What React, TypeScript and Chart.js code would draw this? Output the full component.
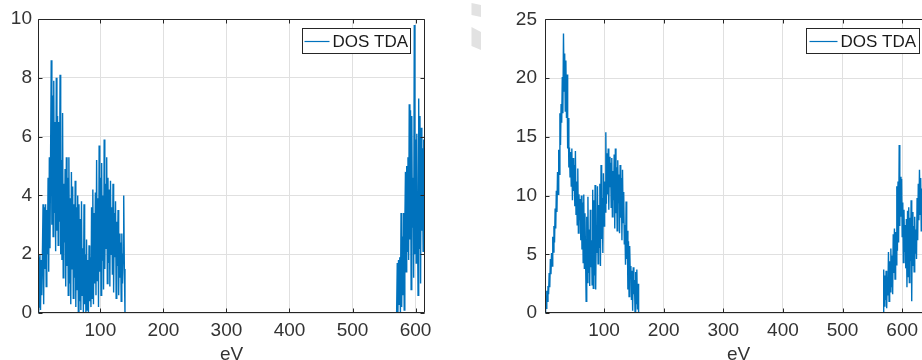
import React, { useEffect, useRef } from "react";
import { Chart, registerables } from "chart.js";

Chart.register(...registerables);

// ---------- data ----------
const seriesLabel = "DOS TDA";
const xTitle = "eV";

// left panel (energy grid step 1 eV)
const leftBand1Start = 1;
const leftBand1 = [
  0, 1.9, 0.2, 2.0, 0.1, 1.8, 0.6, 2.0, 3.7, 0.3,
  3.6, 1.5, 3.7, 0.9, 3.5, 2.0, 4.6, 1.4, 5.3, 2.2,
  5.4, 8.6, 3.0, 7.4, 2.6, 7.9, 3.4, 6.5, 2.1, 8.0,
  2.8, 6.7, 2.3, 6.5, 3.1, 8.1, 2.0, 5.2, 1.8, 6.8,
  1.2, 4.4, 2.4, 4.9, 0.9, 5.3, 1.6, 4.6, 0.6, 5.3,
  1.0, 3.9, 0.3, 4.8, 1.5, 4.3, 0.5, 3.7, 1.2, 4.5,
  0.2, 3.6, 0.8, 4.0, 0.0, 3.7, 0.4, 3.2, 0.1, 3.8,
  0.6, 2.2, 0.0, 3.7, 0.3, 2.0, 0.0, 2.5, 0.1, 1.8,
  0.0, 2.3, 0.4, 1.9, 0.2, 3.6, 0.5, 4.2, 0.3, 3.4,
  1.0, 4.1, 0.6, 5.2, 1.1, 3.9, 0.2, 5.7, 1.4, 4.6,
  0.6, 5.1, 1.8, 4.0, 0.8, 5.9, 1.5, 4.4, 2.2, 5.3,
  1.0, 4.6, 1.7, 4.2, 0.9, 4.5, 2.0, 3.6, 1.3, 4.4,
  0.7, 3.4, 1.9, 3.8, 0.5, 3.1, 1.6, 3.5, 0.6, 2.7,
  1.2, 2.4, 0.4, 2.7, 1.0, 2.0, 4.0, 1.5, 0.0, 0.0,
];
const leftBand2Start = 570;
const leftBand2 = [
  0, 1.7, 0.0, 1.8, 0.3, 1.9, 0.0, 3.4, 0.2, 2.6,
  0.6, 3.4, 0.1, 2.9, 4.8, 1.4, 5.0, 2.1, 5.3, 1.8,
  7.1, 2.5, 6.9, 0.8, 6.7, 2.9, 4.6, 1.2, 9.8, 2.0,
  5.9, 1.7, 6.1, 3.5, 0.6, 7.3, 2.2, 6.7, 1.0, 6.3,
  2.8, 5.6, 2.1, 5.9, 3.0, 5.0,
];

// right panel
const rightBand1Start = 1;
const rightBand1 = [
  0, 1.5, 0.4, 1.9, 1.0, 2.3, 1.6, 3.4, 2.2, 4.6,
  3.3, 5.1, 4.0, 6.5, 5.2, 7.4, 6.0, 8.9, 7.2, 10.4,
  8.6, 12.0, 10.1, 13.9, 11.8, 17.0, 14.3, 17.8, 16.2, 20.1,
  17.0, 23.8, 18.9, 22.1, 17.2, 21.5, 16.6, 20.3, 14.0, 16.6,
  12.4, 14.1, 11.6, 13.7, 10.8, 14.0, 9.6, 13.2, 10.4, 12.6,
  9.1, 13.8, 8.4, 11.2, 7.5, 12.3, 6.8, 10.1, 7.9, 9.7,
  6.2, 10.0, 5.4, 9.4, 4.3, 10.1, 3.8, 8.5, 4.9, 1.0,
  8.2, 2.6, 9.9, 3.4, 7.1, 2.3, 8.8, 3.9, 6.2, 2.4,
  10.5, 2.1, 9.6, 3.2, 10.9, 2.0, 7.5, 5.1, 10.8, 4.2,
  9.2, 5.6, 11.0, 4.0, 12.6, 6.3, 9.8, 5.1, 11.9, 7.4,
  11.2, 8.6, 15.4, 9.3, 13.6, 10.1, 14.0, 8.8, 13.3, 10.7,
  12.8, 9.0, 13.2, 8.2, 12.1, 9.6, 13.5, 7.2, 14.0, 8.5,
  12.4, 7.0, 13.0, 9.4, 11.8, 6.8, 12.6, 8.1, 11.5, 6.2,
  12.2, 7.7, 10.3, 5.9, 7.5, 4.1, 9.5, 4.6, 7.0, 2.0,
  6.1, 1.4, 5.7, 3.3, 4.0, 1.1, 3.6, 0.2, 3.9, 1.6,
  2.8, 0.0, 3.5, 0.8, 3.7, 0.3, 2.5, 0.0,
];
const rightBand2Start = 568;
const rightBand2 = [
  0, 3.7, 0.6, 3.2, 1.1, 3.6, 0.4, 3.0, 1.5, 5.2,
  1.0, 4.4, 1.8, 5.5, 2.2, 4.9, 1.6, 6.7, 3.4, 7.2,
  2.9, 6.9, 4.1, 10.8, 5.3, 11.2, 6.0, 14.3, 7.4, 11.6,
  8.2, 11.4, 6.5, 9.4, 4.3, 8.8, 5.2, 7.5, 3.8, 8.0,
  2.2, 8.7, 3.1, 9.0, 2.6, 8.1, 4.4, 9.6, 1.0, 8.6,
  4.0, 7.4, 3.5, 8.2, 5.1, 7.1, 4.6, 9.8, 6.2, 11.0,
  7.9, 12.2, 8.4, 11.5, 7.0, 10.6, 8.8, 12.0, 7.6, 11.3,
  9.0, 12.5, 8.1,
];

const leftXRange = [1, 615];
const rightXRange = [1, 650];
const leftYRange = [0, 10];
const rightYRange = [0, 25];
const xTickValues = [100, 200, 300, 400, 500, 600];
const leftYTickValues = [0, 2, 4, 6, 8, 10];
const rightYTickValues = [0, 5, 10, 15, 20, 25];

// ---------- helpers ----------
function bandsToPoints(bands: [number, number[]][]) {
  const pts: { x: number; y: number }[] = [];
  for (const [start, vals] of bands) {
    vals.forEach((v, i) => pts.push({ x: start + i, y: v }));
  }
  return pts;
}

const FONT = "'Liberation Sans', Arial, Helvetica, sans-serif";
const LINE_COLOR = "#0072BD";
const AXIS_COLOR = "#262626";

const framePlugin = {
  id: "matlabFrame",
  afterDatasetsDraw(chart: any, _args: any, opts: any) {
    const { ctx, chartArea: a, scales } = chart;
    ctx.save();
    ctx.strokeStyle = AXIS_COLOR;
    ctx.lineWidth = 1;
    const L = Math.round(a.left) + 0.5;
    const R = Math.round(a.right) - 0.5;
    const T = Math.round(a.top) + 0.5;
    const B = Math.round(a.bottom) - 0.5;
    ctx.beginPath();
    ctx.rect(L, T, R - L, B - T);
    const tl = 4;
    for (const v of opts.xTicks || []) {
      const px = Math.round(scales.x.getPixelForValue(v)) + 0.5;
      ctx.moveTo(px, B);
      ctx.lineTo(px, B - tl);
      ctx.moveTo(px, T);
      ctx.lineTo(px, T + tl);
    }
    for (const v of opts.yTicks || []) {
      const py = Math.round(scales.y.getPixelForValue(v)) + 0.5;
      ctx.moveTo(L, py);
      ctx.lineTo(L + tl, py);
      ctx.moveTo(R, py);
      ctx.lineTo(R - tl, py);
    }
    ctx.stroke();
    ctx.restore();
  },
  afterDraw(chart: any, _args: any, opts: any) {
    const { ctx, chartArea: a } = chart;
    const lg = opts.legend;
    if (lg) {
      const right = Math.round(a.right - lg.rightGap) + 0.5;
      const left = right - lg.width;
      const top = Math.round(a.top + lg.topGap) + 0.5;
      const h = lg.height;
      ctx.save();
      ctx.fillStyle = "#ffffff";
      ctx.fillRect(left, top, lg.width, h);
      ctx.strokeStyle = AXIS_COLOR;
      ctx.lineWidth = 1;
      ctx.strokeRect(left, top, lg.width, h);
      const cy = top + h / 2;
      const ds = chart.data.datasets[0];
      ctx.strokeStyle = LINE_COLOR;
      ctx.lineWidth = 1.2;
      ctx.beginPath();
      ctx.moveTo(left + lg.lineStart, Math.round(cy) + 0.5);
      ctx.lineTo(left + lg.lineEnd, Math.round(cy) + 0.5);
      ctx.stroke();
      ctx.fillStyle = "#1a1a1a";
      ctx.font = `${lg.fontSize}px ${FONT}`;
      ctx.textBaseline = "middle";
      ctx.textAlign = "left";
      ctx.fillText(ds.label, left + lg.textStart, cy + 1);
      ctx.restore();
    }
    if (opts.watermark) {
      ctx.save();
      ctx.fillStyle = "#e2e2e2";
      for (const poly of opts.watermark) {
        ctx.beginPath();
        poly.forEach(([x, y]: number[], i: number) => (i ? ctx.lineTo(x, y) : ctx.moveTo(x, y)));
        ctx.closePath();
        ctx.fill();
      }
      ctx.restore();
    }
  },
};

type PanelProps = {
  left: number;
  points: { x: number; y: number }[];
  xRange: number[];
  yRange: number[];
  yTicks: number[];
  yPad: number;
  legend: any;
  watermark?: number[][][];
};

const CW = 507;
const CH = 366;

function Panel({ left, points, xRange, yRange, yTicks, yPad, legend, watermark }: PanelProps) {
  const ref = useRef<HTMLCanvasElement>(null);
  useEffect(() => {
    const chart = new Chart(ref.current as HTMLCanvasElement, {
      type: "line",
      data: {
        datasets: [
          {
            label: seriesLabel,
            data: points,
            borderColor: LINE_COLOR,
            backgroundColor: LINE_COLOR,
            borderWidth: 1.4,
            pointRadius: 0,
            tension: 0,
            fill: false,
          },
        ],
      },
      plugins: [framePlugin as any],
      options: {
        animation: false,
        responsive: false,
        devicePixelRatio: 1,
        parsing: false as any,
        normalized: true,
        layout: { padding: { left: 0, right: 82, top: 19, bottom: 0 } },
        plugins: {
          legend: { display: false },
          tooltip: { enabled: false },
          matlabFrame: { xTicks: xTickValues, yTicks, legend, watermark },
        } as any,
        scales: {
          x: {
            type: "linear",
            min: xRange[0],
            max: xRange[1],
            afterBuildTicks: (s: any) => {
              s.ticks = xTickValues.map((v) => ({ value: v }));
            },
            afterFit: (s: any) => {
              s.height = 53;
            },
            grid: { color: "#e0e0e0", lineWidth: 1, drawTicks: false },
            border: { display: false },
            ticks: {
              padding: 6,
              maxRotation: 0,
              autoSkip: false,
              color: "#333333",
              font: { family: FONT, size: 19 },
            },
            title: {
              display: true,
              text: xTitle,
              color: "#333333",
              font: { family: FONT, size: 19 },
              padding: { top: 0, bottom: 0 },
            },
          },
          y: {
            type: "linear",
            min: yRange[0],
            max: yRange[1],
            afterBuildTicks: (s: any) => {
              s.ticks = yTicks.map((v) => ({ value: v }));
            },
            afterFit: (s: any) => {
              s.width = 38;
            },
            grid: { color: "#e0e0e0", lineWidth: 1, drawTicks: false },
            border: { display: false },
            ticks: {
              padding: yPad,
              autoSkip: false,
              color: "#333333",
              font: { family: FONT, size: 19 },
            },
          },
        },
      },
    });
    return () => chart.destroy();
  }, []);
  return (
    <canvas
      ref={ref}
      width={CW}
      height={CH}
      style={{ position: "absolute", left, top: 0, width: CW, height: CH, display: "block" }}
    />
  );
}

export default function App() {
  const leftPoints = bandsToPoints([
    [leftBand1Start, leftBand1],
    [leftBand2Start, leftBand2],
  ]);
  const rightPoints = bandsToPoints([
    [rightBand1Start, rightBand1],
    [rightBand2Start, rightBand2],
  ]);
  return (
    <div
      style={{
        position: "fixed",
        left: 0,
        top: 0,
        width: 922,
        height: 360,
        overflow: "hidden",
        background: "#ffffff",
      }}
    >
      <Panel
        left={0}
        points={leftPoints}
        xRange={leftXRange}
        yRange={leftYRange}
        yTicks={leftYTickValues}
        yPad={6}
        legend={{ rightGap: 15, topGap: 9, width: 108, height: 25, lineStart: 2, lineEnd: 27, textStart: 30, fontSize: 17 }}
        watermark={[
          [[471.5, 3], [481, 5], [481, 17], [471.5, 15]],
          [[471.5, 27], [481, 32], [481, 50], [471.5, 46]],
        ]}
      />
      <Panel
        left={507}
        points={rightPoints}
        xRange={rightXRange}
        yRange={rightYRange}
        yTicks={rightYTickValues}
        yPad={8}
        legend={{ rightGap: 13, topGap: 9, width: 113, height: 25, lineStart: 3, lineEnd: 31, textStart: 34, fontSize: 17 }}
      />
    </div>
  );
}
